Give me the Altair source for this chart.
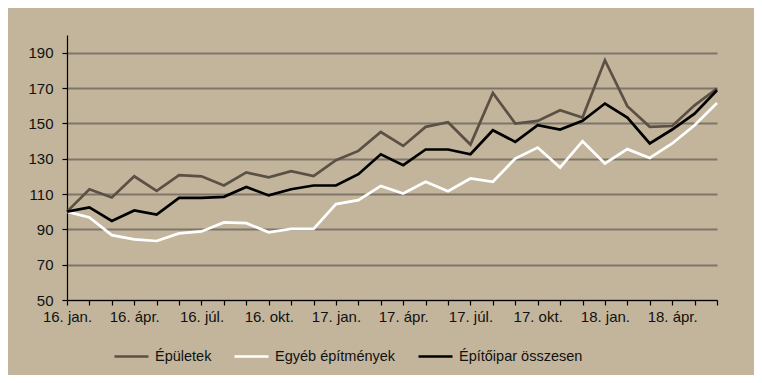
import altair as alt
import pandas as pd

months = [
    "16. jan.", "16. febr.", "16. márc.", "16. ápr.", "16. máj.", "16. jún.",
    "16. júl.", "16. aug.", "16. szept.", "16. okt.", "16. nov.", "16. dec.",
    "17. jan.", "17. febr.", "17. márc.", "17. ápr.", "17. máj.", "17. jún.",
    "17. júl.", "17. aug.", "17. szept.", "17. okt.", "17. nov.", "17. dec.",
    "18. jan.", "18. febr.", "18. márc.", "18. ápr.", "18. máj.", "18. jún.",
]
shown_labels = ["16. jan.", "16. ápr.", "16. júl.", "16. okt.", "17. jan.", "17. ápr.",
                "17. júl.", "17. okt.", "18. jan.", "18. ápr."]

series_names = ["Épületek", "Egyéb építmények", "Építőipar összesen"]

epuletek = [100, 112.7, 108, 120, 111.8, 120.7, 120, 114.8, 122.2, 119.4,
            122.9, 120.1, 129.1, 134.4, 145.1, 137.2, 148, 150.6, 138, 167.2,
            149.9, 151.4, 157.4, 153.3, 185.7, 159.7, 148, 148.5, 160.2, 169.7]
egyeb = [100, 96.7, 86.7, 84.3, 83.4, 87.7, 88.8, 93.9, 93.5, 88.3,
         90.3, 90.3, 104.3, 106.5, 114.6, 110.3, 116.9, 111.6, 118.8, 116.9,
         130.1, 136.3, 125, 139.9, 127.3, 135.4, 130.4, 138.6, 148.9, 161.5]
osszesen = [100, 102.4, 94.8, 100.7, 98.4, 107.8, 107.8, 108.4, 114, 109.2,
            112.7, 114.8, 114.8, 121.2, 132.5, 126.3, 135.2, 135.2, 132.5, 146.1,
            139.5, 148.9, 146.5, 151.4, 161.2, 153.3, 138.6, 146.5, 155.5, 168.7]

y_ticks = [50, 70, 90, 110, 130, 150, 170, 190]

rows = []
for name, vals in zip(series_names, [epuletek, egyeb, osszesen]):
    for m, v in zip(months, vals):
        rows.append({"series": name, "month": m, "value": v})
df = pd.DataFrame(rows)

BG = "#C2B59C"
FONT = "Liberation Sans"

label_list = "[" + ",".join("'" + s + "'" for s in shown_labels) + "]"
label_expr = f"indexof({label_list}, datum.value) >= 0 ? datum.value : ''"

legend_cfg = dict(orient="none", legendX=46, legendY=303,
                  direction="horizontal", symbolType="stroke",
                  symbolSize=1156, labelFont=FONT,
                  labelFontSize=14.5, labelColor="#111111",
                  labelOffset=5, columnPadding=17, title=None)

chart = alt.Chart(df).mark_line(strokeJoin="miter", strokeCap="butt").encode(
    x=alt.X("month:O", sort=months, title=None,
            scale=alt.Scale(type="point", padding=0),
            axis=alt.Axis(labelAngle=0, labelExpr=label_expr, grid=False,
                          domainColor="#000000", domainWidth=1.2,
                          tickColor="#000000", tickSize=5, tickWidth=1.2,
                          labelFont=FONT, labelFontSize=15, labelColor="#111111",
                          labelPadding=4, labelOverlap=False, labelBound=False,
                          labelFlush=False)),
    y=alt.Y("value:Q", title=None,
            scale=alt.Scale(domain=[50, 200], nice=False, zero=False),
            axis=alt.Axis(values=y_ticks, grid=True, gridColor="#7F7669", gridWidth=2,
                          domainColor="#000000", domainWidth=1.2,
                          tickColor="#000000", tickSize=5, tickWidth=1.2,
                          labelFont=FONT, labelFontSize=15, labelColor="#111111",
                          labelPadding=9)),
    color=alt.Color("series:N", sort=series_names, title=None,
                    scale=alt.Scale(domain=series_names,
                                    range=["#5C5045", "#FFFFFF", "#000000"]),
                    legend=alt.Legend(**legend_cfg)),
    strokeWidth=alt.StrokeWidth("series:N", sort=series_names, title=None,
                                scale=alt.Scale(domain=series_names, range=[2.7, 2.7, 4.5]),
                                legend=alt.Legend(**legend_cfg)),
).properties(
    width=650, height=265,
    background=BG,
    padding={"left": 59, "top": 27, "right": 37, "bottom": 75},
    autosize=alt.AutoSizeParams(type="none"),
).configure_view(stroke=None, fill=BG)

chart.save("out.html", embed_options={"renderer": "svg", "actions": False})
